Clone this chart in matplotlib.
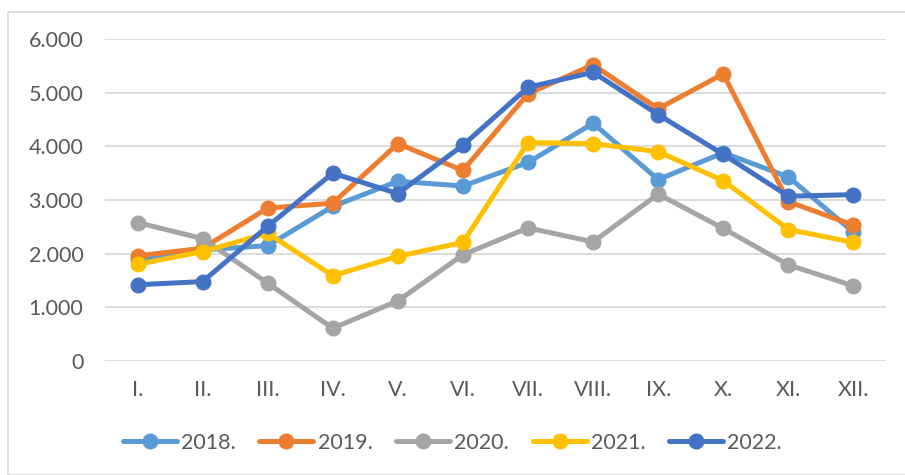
import matplotlib
matplotlib.use("Agg")
import matplotlib.pyplot as plt
from matplotlib.patches import Rectangle
from matplotlib.ticker import FuncFormatter

months = ["I.", "II.", "III.", "IV.", "V.", "VI.", "VII.", "VIII.", "IX.", "X.", "XI.", "XII."]
s2018 = [1880, 2070, 2150, 2880, 3350, 3260, 3700, 4430, 3380, 3880, 3430, 2400]
s2019 = [1960, 2100, 2850, 2940, 4050, 3550, 4980, 5520, 4700, 5350, 2970, 2530]
s2020 = [2580, 2280, 1450, 610, 1120, 1980, 2480, 2220, 3110, 2470, 1790, 1400]
s2021 = [1800, 2040, 2380, 1590, 1950, 2210, 4070, 4050, 3900, 3360, 2450, 2210]
s2022 = [1420, 1480, 2510, 3500, 3120, 4020, 5100, 5380, 4590, 3850, 3070, 3100]
labels = ["2018.", "2019.", "2020.", "2021.", "2022."]
colors = ["#5B9BD5", "#ED7D31", "#A5A5A5", "#FFC000", "#4472C4"]

plt.rcParams['font.family'] = ['Lato', 'DejaVu Sans']

fig = plt.figure(figsize=(9.05, 4.75), dpi=100)
fig.patches.append(Rectangle((8/905, 0), 1, 1 - 12/475, transform=fig.transFigure,
                             fill=False, edgecolor="#d9d9d9", linewidth=1.2))
ax = fig.add_axes([105/905, 1 - 361/475, (886-105)/905, (361-39)/475])

x = list(range(len(months)))
for ys, lab, c in zip([s2018, s2019, s2020, s2021, s2022], labels, colors):
    ax.plot(x, ys, color=c, linewidth=3.6, marker='o', markersize=10.5,
            label=lab, solid_capstyle='round', solid_joinstyle='round')

ax.set_xlim(-0.5, 11.5)
ax.set_ylim(0, 6000)
ax.set_yticks(range(0, 6001, 1000))
ax.yaxis.set_major_formatter(FuncFormatter(lambda v, p: "0" if v == 0 else f"{int(v):,}".replace(",", ".")))
ax.set_xticks(x)
ax.set_xticklabels(months)
ax.grid(axis='y', color="#d9d9d9", linewidth=1.3)
ax.set_axisbelow(True)
for sp in ax.spines.values():
    sp.set_visible(False)
ax.tick_params(axis='both', length=0, labelsize=15.5, labelcolor="#595959")
ax.tick_params(axis='x', pad=14)
ax.tick_params(axis='y', pad=15.5)

fig.legend(loc='center', bbox_to_anchor=(0.5, 1 - 443/475), ncol=5, frameon=False,
           fontsize=15.5, labelcolor="#595959", handlelength=2.5, columnspacing=1.1,
           handletextpad=0.2, markerscale=1.0)

fig.savefig("out.png", dpi=100)
